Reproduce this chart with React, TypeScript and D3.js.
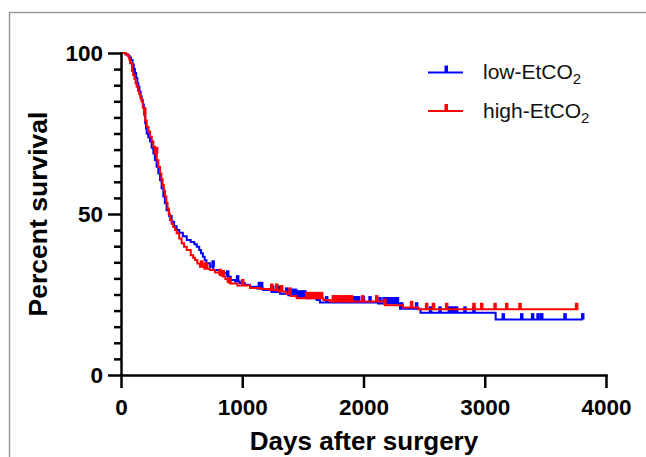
import React, { useEffect, useRef } from 'react';
import * as d3 from 'd3';

// Kaplan-Meier steps: [days, percent]
const lowSteps: [number, number][] = [
  [0, 100], [35, 99.6], [55, 99.2], [70, 98.6], [82, 97.8], [95, 96.4], [105, 95], [115, 93.8],
  [125, 92.2], [135, 90.5], [143, 89.5], [152, 88], [162, 86.5], [170, 85.4], [180, 84], [188, 83],
  [195, 80.5], [200, 78.2], [206, 76.6], [212, 75], [225, 73.8], [239, 72.5], [253, 70.6], [267, 68.8],
  [280, 66.8], [294, 64.7], [308, 62.6], [322, 60.5], [335, 58], [349, 55.4], [362, 53.3], [376, 51.2],
  [397, 49.4], [418, 47.6], [438, 46.2], [459, 45], [480, 44.2], [510, 43.1], [542, 41.9], [575, 41.3],
  [605, 40.6], [625, 39.8], [645, 38.8], [660, 37.8], [675, 36.7], [690, 35.6], [705, 34.7], [735, 33.6],
  [761, 32.6], [815, 32], [850, 31.6], [880, 30.5], [905, 29.5], [940, 29], [980, 28.6], [1020, 28],
  [1064, 27.4], [1120, 26.9], [1173, 26.4], [1240, 25.8], [1311, 25.2], [1380, 24.8], [1449, 24.3],
  [1530, 23.8], [1614, 23.3], [1641, 22.5], [2120, 22.2], [2301, 20.6], [2470, 19.3], [3090, 17.2]
];
const lowEnd = 3808;
const lowCensored = [
  760, 880, 962, 1141, 1160, 1251, 1284, 1306, 1366, 1385, 1400, 1420, 1440, 1460, 1480, 1500, 1517,
  1619, 1696, 1784, 1800, 1820, 1840, 1860, 1880, 1900, 1920, 1940, 1960, 1999, 2054, 2136, 2169, 2190,
  2210, 2235, 2260, 2280, 2315, 2438, 2553, 2631, 2708, 2730, 2750, 2768, 2837, 2911, 3153, 3305, 3395,
  3440, 3470, 3662, 3808
];

const highSteps: [number, number][] = [
  [0, 100], [40, 99.5], [58, 99], [68, 98], [74, 96.8], [90, 94.5], [100, 93.2], [110, 92], [120, 90.6],
  [129, 89.5], [140, 88.3], [150, 87.2], [160, 86], [170, 84.9], [180, 83], [190, 81], [200, 79],
  [212, 77.1], [226, 75.6], [240, 74], [254, 72.5], [267, 70.9], [281, 68.8], [295, 66.7], [308, 64.6],
  [322, 62.6], [333, 60.8], [343, 59], [353, 57.2], [363, 55.4], [374, 53.5], [384, 51.7], [394, 49.9],
  [404, 48.1], [417, 47], [430, 46], [445, 45], [459, 44], [480, 42.4], [500, 40.9], [520, 39.8],
  [542, 38.8], [575, 37.2], [595, 36.4], [610, 35.7], [630, 34.6], [651, 33.6], [690, 33], [734, 32.6],
  [775, 31.8], [817, 31], [840, 30.6], [860, 29.8], [880, 28.9], [899, 28.4], [960, 27.8], [1064, 27],
  [1150, 26.7], [1229, 26.4], [1300, 25.9], [1360, 25.2], [1400, 24.5], [1449, 23.8], [1669, 23.3],
  [1724, 22.8], [2177, 21.7], [2326, 21], [2450, 20.4]
];
const highEnd = 3772;
const highCensored = [
  196, 294, 665, 693, 707, 817, 842, 899, 1004, 1243, 1284, 1325, 1394, 1531, 1550, 1570, 1590, 1610,
  1630, 1655, 1751, 1770, 1790, 1810, 1840, 1860, 1880, 1902, 1993, 2109, 2177, 2397, 2521, 2577, 2686,
  2911, 2975, 3085, 3181, 3291, 3758
];

const xTicks = [0, 1000, 2000, 3000, 4000];
const yTicks = [0, 50, 100];
const yMinor = d3.range(5, 100, 5).filter(v => v !== 50);

const series = [
  { name: 'low-EtCO', color: '#0000ff', steps: lowSteps, end: lowEnd, censored: lowCensored },
  { name: 'high-EtCO', color: '#ff0000', steps: highSteps, end: highEnd, censored: highCensored }
];

function survivalAt(steps: [number, number][], t: number) {
  let v = steps[0][1];
  for (const s of steps) {
    if (s[0] <= t) v = s[1];
  }
  return v;
}

export default function App() {
  const ref = useRef<SVGSVGElement>(null);

  useEffect(() => {
    const svg = d3.select(ref.current);
    svg.selectAll('*').remove();

    const x = d3.scaleLinear().domain([0, 4000]).range([121, 606]);
    const y = d3.scaleLinear().domain([0, 100]).range([375, 53]);
    const font = '"Liberation Sans", Arial, sans-serif';

    // gray frame
    svg.append('path')
      .attr('d', 'M9.5,457 V12.5 H646')
      .attr('fill', 'none')
      .attr('stroke', '#9a9a9a')
      .attr('stroke-width', 1.5);

    // curves
    const line = d3.line<[number, number]>()
      .x(d => x(d[0]))
      .y(d => y(d[1]))
      .curve(d3.curveStepAfter);

    series.forEach(s => {
      const pts = s.steps.concat([[s.end, s.steps[s.steps.length - 1][1]]]);
      svg.append('path')
        .attr('d', line(pts))
        .attr('fill', 'none')
        .attr('stroke', s.color)
        .attr('stroke-width', 2);
      svg.append('g')
        .selectAll('rect')
        .data(s.censored)
        .enter()
        .append('rect')
        .attr('x', d => x(d) - 1.75)
        .attr('y', d => y(survivalAt(s.steps, d)) - 6.5)
        .attr('width', 3.5)
        .attr('height', 6.5)
        .attr('fill', s.color);
    });

    // axes
    const yMinorAxis = svg.append('g')
      .attr('transform', 'translate(121,0)')
      .call(d3.axisLeft(y).tickValues(yMinor).tickSize(7).tickSizeOuter(0).tickFormat(() => ''));
    yMinorAxis.select('.domain').remove();
    yMinorAxis.selectAll('line').attr('stroke-width', 2.5);

    const yAxis = svg.append('g')
      .attr('transform', 'translate(121,0)')
      .call(d3.axisLeft(y).tickValues(yTicks).tickSize(13).tickSizeOuter(0).tickPadding(5));
    const xAxis = svg.append('g')
      .attr('transform', 'translate(0,375)')
      .call(d3.axisBottom(x).tickValues(xTicks).tickSize(13).tickSizeOuter(0).tickPadding(11)
        .tickFormat(d3.format('d')));

    [yAxis, xAxis].forEach(a => {
      a.select('.domain').attr('stroke-width', 2.5).attr('stroke-linecap', 'square');
      a.selectAll('line').attr('stroke-width', 2.5);
      a.selectAll('text')
        .attr('font-family', font)
        .attr('font-size', 22.5)
        .attr('font-weight', 'bold')
        .attr('fill', '#000');
    });

    // axis titles
    svg.append('text')
      .attr('transform', 'translate(47,214) rotate(-90)')
      .attr('text-anchor', 'middle')
      .attr('font-family', font)
      .attr('font-size', 26.5)
      .attr('font-weight', 'bold')
      .text('Percent survival');
    svg.append('text')
      .attr('x', 364)
      .attr('y', 450)
      .attr('text-anchor', 'middle')
      .attr('font-family', font)
      .attr('font-size', 26)
      .attr('font-weight', 'bold')
      .text('Days after surgery');

    // legend
    series.forEach((s, i) => {
      const ly = 72.5 + i * 38.5;
      const g = svg.append('g');
      g.append('line')
        .attr('x1', 428).attr('x2', 463)
        .attr('y1', ly).attr('y2', ly)
        .attr('stroke', s.color).attr('stroke-width', 2);
      g.append('rect')
        .attr('x', 444.5).attr('y', ly - 7)
        .attr('width', 3.5).attr('height', 7)
        .attr('fill', s.color);
      const t = g.append('text')
        .attr('x', 483)
        .attr('y', ly + 6.5)
        .attr('font-family', font)
        .attr('font-size', 21)
        .attr('fill', '#111');
      t.append('tspan').text(s.name);
      t.append('tspan').attr('font-size', 15).attr('dy', 5).text('2');
    });
  }, []);

  return (
    <svg
      ref={ref}
      width={646}
      height={457}
      style={{ position: 'absolute', left: 0, top: 0, background: '#fff' }}
    />
  );
}
